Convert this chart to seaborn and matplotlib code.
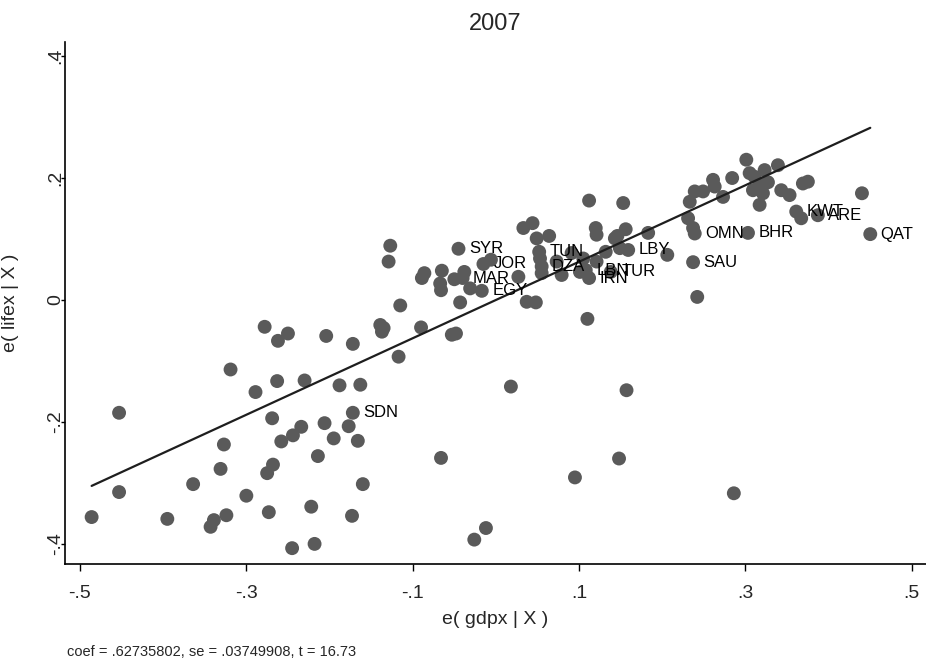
import numpy as np
import pandas as pd
import matplotlib
matplotlib.use("Agg")
import matplotlib.pyplot as plt
import seaborn as sns

# ---- data (added-variable plot, 2007) ----
x_resid = [
    -0.486, -0.453, -0.453, -0.395, -0.364, -0.343, -0.339, -0.331, -0.327, -0.324,
    -0.319, -0.300, -0.289, -0.278, -0.275, -0.273, -0.269, -0.268, -0.263, -0.262,
    -0.258, -0.250, -0.245, -0.244, -0.234, -0.230, -0.222, -0.218, -0.214, -0.206,
    -0.204, -0.195, -0.188, -0.177, -0.173, -0.172, -0.172, -0.166, -0.163, -0.160,
    -0.139, -0.135, -0.137, -0.117, -0.090, -0.053, -0.048, -0.066, -0.026, -0.012,
    0.018, 0.095, 0.110, 0.148, 0.157, 0.286,
    -0.127, -0.129, -0.115, -0.086, -0.089, -0.065, -0.067, -0.066, -0.050, -0.045,
    -0.038, -0.040, -0.031, -0.017, -0.015, -0.006, 0.027, -0.043,
    0.033, 0.044, 0.049, 0.064, 0.052, 0.053, 0.055, 0.055, 0.073, 0.079,
    0.091, 0.037, 0.048, 0.105, 0.108, 0.112, 0.121, 0.101, 0.120, 0.121,
    0.112, 0.153, 0.156, 0.183, 0.143, 0.146, 0.132, 0.159, 0.149, 0.138,
    0.206,
    0.301, 0.284, 0.261, 0.263, 0.249, 0.239, 0.233, 0.273, 0.305, 0.311,
    0.323, 0.339, 0.317, 0.309, 0.321, 0.317, 0.343, 0.353, 0.369, 0.375,
    0.440, 0.231, 0.237, 0.239, 0.303, 0.450, 0.237, 0.242, 0.361, 0.367,
    0.387, 0.327,
]
y_resid = [
    -0.356, -0.315, -0.185, -0.359, -0.302, -0.372, -0.361, -0.277, -0.237, -0.353,
    -0.114, -0.321, -0.151, -0.044, -0.284, -0.348, -0.194, -0.270, -0.133, -0.067,
    -0.232, -0.055, -0.407, -0.222, -0.208, -0.132, -0.339, -0.400, -0.256, -0.202,
    -0.059, -0.227, -0.140, -0.207, -0.354, -0.072, -0.185, -0.231, -0.139, -0.302,
    -0.041, -0.046, -0.052, -0.093, -0.045, -0.057, -0.055, -0.259, -0.393, -0.374,
    -0.142, -0.291, -0.031, -0.260, -0.148, -0.317,
    0.089, 0.063, -0.009, 0.044, 0.036, 0.048, 0.027, 0.016, 0.034, 0.084,
    0.046, 0.036, 0.019, 0.015, 0.059, 0.066, 0.038, -0.004,
    0.118, 0.126, 0.101, 0.105, 0.079, 0.068, 0.055, 0.044, 0.063, 0.041,
    0.077, -0.003, -0.004, 0.068, 0.049, 0.036, 0.063, 0.046, 0.118, 0.107,
    0.163, 0.159, 0.116, 0.110, 0.101, 0.105, 0.079, 0.082, 0.085, 0.046,
    0.074,
    0.230, 0.200, 0.197, 0.186, 0.178, 0.178, 0.161, 0.169, 0.208, 0.202,
    0.213, 0.221, 0.189, 0.180, 0.175, 0.156, 0.180, 0.172, 0.191, 0.194,
    0.175, 0.134, 0.118, 0.109, 0.110, 0.108, 0.062, 0.005, 0.145, 0.134,
    0.139, 0.193,
]
labels = [""] * len(x_resid)
label_at = {
    36: "SDN", 65: "SYR", 67: "MAR", 69: "EGY", 70: "JOR",
    78: "TUN", 80: "DZA", 88: "LBN", 89: "IRN", 103: "TUR", 101: "LBY",
    128: "OMN", 129: "BHR", 130: "QAT", 131: "SAU", 133: "KWT", 135: "ARE",
}
for i, lab in label_at.items():
    labels[i] = lab

coef = 0.62735802
se = 0.03749908
tstat = 16.73
title = "2007"
xlabel = "e( gdpx | X )"
ylabel = "e( lifex | X )"
xticks = [-0.5, -0.3, -0.1, 0.1, 0.3, 0.5]
xticklabels = ["-.5", "-.3", "-.1", ".1", ".3", ".5"]
yticks = [-0.4, -0.2, 0.0, 0.2, 0.4]
yticklabels = ["-.4", "-.2", "0", ".2", ".4"]

df = pd.DataFrame({"x": x_resid, "y": y_resid, "label": labels})
xs = np.array([df["x"].min(), df["x"].max()])
fit = pd.DataFrame({"x": xs, "y": coef * xs})

sns.set_style("white")
plt.rcParams["font.family"] = ["Liberation Sans", "DejaVu Sans"]

fig = plt.figure(figsize=(9.26, 6.63), dpi=100)
ax = fig.add_axes([0.0702, 0.1493, 0.9298, 0.7873])

sns.scatterplot(data=df, x="x", y="y", ax=ax, s=100, color="#5a5a5a",
                edgecolor="none", linewidth=0, zorder=2)
sns.lineplot(data=fit, x="x", y="y", ax=ax, color="#1e1e1e", linewidth=1.6,
             zorder=3)

for _, r in df.iterrows():
    if r["label"]:
        ax.annotate(r["label"], (r["x"], r["y"]), xytext=(7.5, 0),
                    textcoords="offset points", va="center", ha="left",
                    fontsize=12, color="black", zorder=4)

ax.set_xlim(-0.518, 0.517)
ax.set_ylim(-0.433, 0.423)
ax.set_xticks(xticks)
ax.set_xticklabels(xticklabels, fontsize=14)
ax.set_yticks(yticks)
ax.set_yticklabels(yticklabels, fontsize=14, rotation=90, va="center")
ax.tick_params(axis="x", direction="out", length=5, width=1, color="black",
               bottom=True, pad=10)
ax.tick_params(axis="y", direction="out", length=3, width=1, color="black",
               left=True, pad=-2.5)
for side in ["top", "right"]:
    ax.spines[side].set_visible(False)
for side in ["left", "bottom"]:
    ax.spines[side].set_color("black")
    ax.spines[side].set_linewidth(1.2)

ax.set_xlabel(xlabel, fontsize=14)
ax.set_ylabel(ylabel, fontsize=14)
ax.xaxis.set_label_coords(0.5, -0.09)
ax.yaxis.set_label_coords(-0.054, 0.5)
ax.set_title(title, fontsize=17, pad=9)

fig.text(0.072, 0.0166,
         f"coef = {str(coef)[1:]}, se = {str(se)[1:]}, t = {tstat}",
         fontsize=10.5, ha="left", va="center")

fig.savefig("out.png", dpi=100)
